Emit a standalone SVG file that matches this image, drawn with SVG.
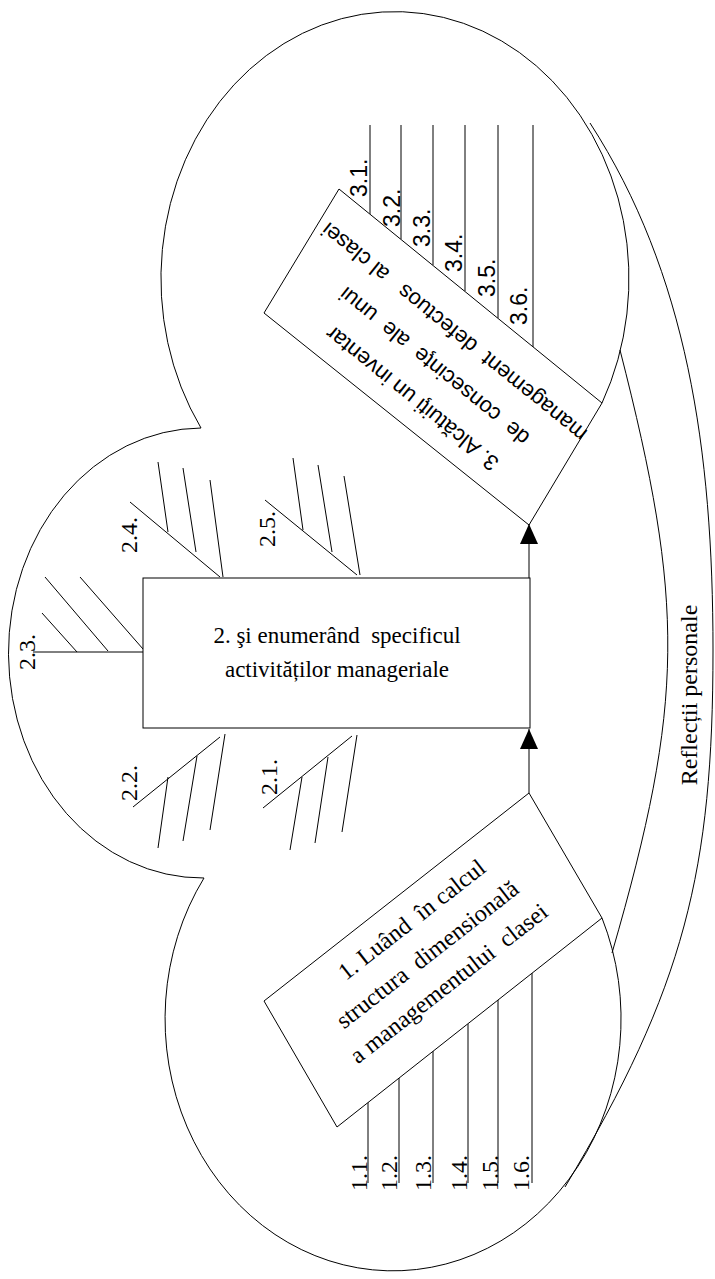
<svg xmlns="http://www.w3.org/2000/svg" width="715" height="1279" viewBox="0 0 715 1279">
<style>
.ln{fill:none;stroke:#000;stroke-width:1}
.bx{fill:#fff;stroke:#000;stroke-width:1}
.serif{font-family:"Liberation Serif","Times New Roman",serif;fill:#000}
.sans{font-family:"Liberation Sans",Arial,sans-serif;fill:#000}
.lbl{font-size:24px}
.lbs{font-size:23px}
</style>
<defs>
<marker id="arr" viewBox="0 0 20 18" refX="20" refY="9" markerWidth="20" markerHeight="18" orient="auto" markerUnits="userSpaceOnUse">
<path d="M0,0 L20,9 L0,18 Z" fill="#000"/>
</marker>
</defs>
<rect width="715" height="1279" fill="#fff"/>
<g id="cloud">
<path class="ln" d="M201,428 A234,267 0 1 1 602,403"/>
<path class="ln" d="M201,428 A194,225 0 0 0 204,878"/>
<path class="ln" d="M204,878 A228,252 0 1 0 602,918"/>
<path class="ln" d="M590,123 C687,273 713,450 713,650 C713,870 685,987 565,1187"/>
<path class="ln" d="M620,350 C685,604 685,701 612,953"/>
<text class="serif" font-size="24" text-anchor="middle" transform="translate(697,695) rotate(-90)">Reflecții personale</text>
</g>
<g id="node2">
<g class="ln">
<path d="M130,502 L220,577 M158,462 L168,532 M183,468 L196,552 M210,480 L223,577"/>
<path d="M265,500 L357,575 M293,458 L303,530 M318,465 L332,552 M344,476 L360,575"/>
<path d="M33,652 L143,652 M42,613 L77,652 M45,577 L108,651 M80,577 L143,649"/>
<path d="M133,807 L220,737 M168,777 L158,848 M197,756 L183,841 M225,734 L210,830"/>
<path d="M263,808 L352,736 M302,777 L290,850 M328,757 L315,843 M357,735 L342,832"/>
</g>
<g class="serif lbl">
<text transform="translate(137,553) rotate(-90)">2.4.</text>
<text transform="translate(275,547) rotate(-90)">2.5.</text>
<text transform="translate(35,670) rotate(-90)">2.3.</text>
<text transform="translate(137,801) rotate(-90)">2.2.</text>
<text transform="translate(277,795) rotate(-90)">2.1.</text>
</g>
<rect class="bx" x="143" y="578" width="387" height="150"/>
<g class="serif" font-size="23" text-anchor="middle">
<text x="337" y="643" xml:space="preserve">2. şi enumerând  specificul</text>
<text x="337" y="677">activităților manageriale</text>
</g>
</g>
<g id="node1">
<path class="ln" d="M368,1102 V1183 M399,1078 V1183 M433,1051 V1183 M468,1024 V1183 M498,1000 V1183 M532,973 V1183"/>
<polygon class="bx" points="529,793 602,918 337,1127 264,1001"/>
<g class="serif" font-size="24" text-anchor="middle" transform="translate(433,960) rotate(-38)">
<text x="8" y="-37" xml:space="preserve">1. Luând  în calcul</text>
<text x="-1" y="0" xml:space="preserve">structura  dimensională</text>
<text x="-2" y="36" xml:space="preserve">a managementului  clasei</text>
</g>
<g class="serif lbl">
<text transform="translate(367,1191) rotate(-90)">1.1.</text>
<text transform="translate(397,1191) rotate(-90)">1.2.</text>
<text transform="translate(431,1191) rotate(-90)">1.3.</text>
<text transform="translate(467,1191) rotate(-90)">1.4.</text>
<text transform="translate(498,1191) rotate(-90)">1.5.</text>
<text transform="translate(529,1191) rotate(-90)">1.6.</text>
</g>
</g>
<g id="node3">
<path class="ln" d="M370,125 V214 M401,125 V239 M433,125 V265 M465,125 V291 M498,125 V318 M533,125 V347"/>
<polygon class="bx" points="339,189 602,403 529,525 264,313"/>
<g class="sans" font-size="22" text-anchor="middle" transform="translate(433.5,357.5) rotate(219)">
<text x="-9" y="-38">3. Alcătuiţi un inventar</text>
<text x="-6" y="1" xml:space="preserve">de  consecinţe  ale  unui</text>
<text x="0" y="40" xml:space="preserve">management  defectuos   al clasei</text>
</g>
<g class="sans lbs">
<text transform="translate(367,197) rotate(-90)">3.1.</text>
<text transform="translate(400,227) rotate(-90)">3.2.</text>
<text transform="translate(430,247) rotate(-90)">3.3.</text>
<text transform="translate(462,272) rotate(-90)">3.4.</text>
<text transform="translate(495,297) rotate(-90)">3.5.</text>
<text transform="translate(527,325) rotate(-90)">3.6.</text>
</g>
</g>
<g id="connectors" class="ln">
<path d="M529,793 L529,729" marker-end="url(#arr)"/>
<path d="M529,578 L529,524" marker-end="url(#arr)"/>
</g>
</svg>
